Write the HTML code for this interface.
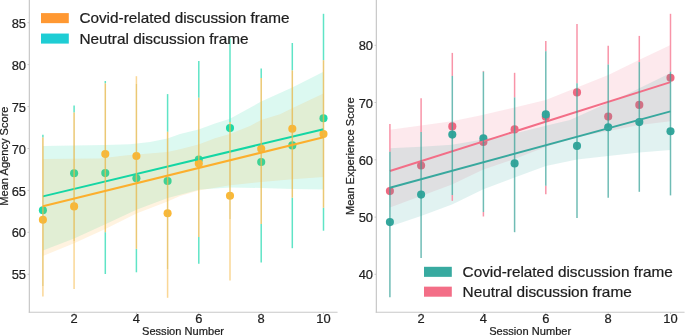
<!DOCTYPE html>
<html><head><meta charset="utf-8"><title>chart</title>
<style>html,body{margin:0;padding:0;background:#fff;overflow:hidden;}svg{display:block;will-change:transform;}text{font-family:"Liberation Sans",sans-serif;}</style>
</head><body>
<svg width="685" height="335" viewBox="0 0 685 335">
<rect x="0" y="0" width="685" height="335" fill="#fff"/>
<circle cx="42.9" cy="210.3" r="4.05" fill="rgb(30,218,168)"/>
<circle cx="74.1" cy="173.2" r="4.05" fill="rgb(30,218,168)"/>
<circle cx="105.3" cy="173.1" r="4.05" fill="rgb(30,218,168)"/>
<circle cx="136.4" cy="178.2" r="4.05" fill="rgb(30,218,168)"/>
<circle cx="167.6" cy="181.0" r="4.05" fill="rgb(30,218,168)"/>
<circle cx="198.8" cy="159.5" r="4.05" fill="rgb(30,218,168)"/>
<circle cx="230.0" cy="128.1" r="4.05" fill="rgb(30,218,168)"/>
<circle cx="261.2" cy="162.0" r="4.05" fill="rgb(30,218,168)"/>
<circle cx="292.3" cy="145.4" r="4.05" fill="rgb(30,218,168)"/>
<circle cx="323.5" cy="118.2" r="4.05" fill="rgb(30,218,168)"/>
<polygon points="42.9,146.1 74.0,145.5 105.0,145.0 130.0,144.2 150.0,142.1 167.5,138.5 180.0,134.0 198.6,129.5 215.0,123.5 229.9,118.8 261.2,101.6 292.2,87.6 323.5,71.8 323.5,189.6 292.2,188.9 261.2,188.0 229.9,187.4 200.0,189.5 167.6,197.9 136.4,209.8 105.3,224.2 74.1,238.5 42.9,250.4" fill="rgb(20,214,164)" fill-opacity="0.15"/>
<circle cx="42.9" cy="219.7" r="4.05" fill="rgb(250,184,55)"/>
<circle cx="74.1" cy="206.4" r="4.05" fill="rgb(250,184,55)"/>
<circle cx="105.3" cy="154.0" r="4.05" fill="rgb(250,184,55)"/>
<circle cx="136.4" cy="156.0" r="4.05" fill="rgb(250,184,55)"/>
<circle cx="167.6" cy="213.2" r="4.05" fill="rgb(250,184,55)"/>
<circle cx="198.8" cy="163.6" r="4.05" fill="rgb(250,184,55)"/>
<circle cx="230.0" cy="195.8" r="4.05" fill="rgb(250,184,55)"/>
<circle cx="261.2" cy="148.8" r="4.05" fill="rgb(250,184,55)"/>
<circle cx="292.3" cy="128.7" r="4.05" fill="rgb(250,184,55)"/>
<circle cx="323.5" cy="134.0" r="4.05" fill="rgb(250,184,55)"/>
<polygon points="42.9,159.1 100.0,158.4 125.0,155.5 167.5,152.0 180.0,149.3 198.6,144.6 215.0,138.3 229.9,134.0 250.0,126.0 261.2,120.0 280.0,114.3 292.2,108.3 323.5,93.5 323.5,177.1 292.2,179.3 261.2,181.9 229.9,185.2 198.6,190.6 180.0,196.1 167.6,201.5 136.4,213.4 105.3,229.0 74.1,243.3 42.9,255.9" fill="rgb(252,175,45)" fill-opacity="0.15"/>
<line x1="42.9" y1="134.7" x2="42.9" y2="137.6" stroke="rgb(95,228,198)" stroke-width="1.5"/>
<line x1="74.1" y1="105.6" x2="74.1" y2="112.5" stroke="rgb(95,228,198)" stroke-width="1.5"/>
<line x1="105.3" y1="81.0" x2="105.3" y2="83.4" stroke="rgb(95,228,198)" stroke-width="1.5"/>
<line x1="105.3" y1="232.2" x2="105.3" y2="274.0" stroke="rgb(95,228,198)" stroke-width="1.5"/>
<line x1="136.4" y1="248.9" x2="136.4" y2="272.3" stroke="rgb(95,228,198)" stroke-width="1.5"/>
<line x1="167.6" y1="94.1" x2="167.6" y2="131.8" stroke="rgb(95,228,198)" stroke-width="1.5"/>
<line x1="198.8" y1="60.9" x2="198.8" y2="97.7" stroke="rgb(95,228,198)" stroke-width="1.5"/>
<line x1="198.8" y1="236.9" x2="198.8" y2="263.7" stroke="rgb(95,228,198)" stroke-width="1.5"/>
<line x1="230.0" y1="38.4" x2="230.0" y2="122.1" stroke="rgb(95,228,198)" stroke-width="1.5"/>
<line x1="261.2" y1="68.5" x2="261.2" y2="77.9" stroke="rgb(95,228,198)" stroke-width="1.5"/>
<line x1="261.2" y1="224.0" x2="261.2" y2="262.5" stroke="rgb(95,228,198)" stroke-width="1.5"/>
<line x1="292.3" y1="43.0" x2="292.3" y2="70.4" stroke="rgb(95,228,198)" stroke-width="1.5"/>
<line x1="292.3" y1="197.7" x2="292.3" y2="248.2" stroke="rgb(95,228,198)" stroke-width="1.5"/>
<line x1="323.5" y1="13.8" x2="323.5" y2="60.2" stroke="rgb(95,228,198)" stroke-width="1.5"/>
<line x1="323.5" y1="207.8" x2="323.5" y2="230.7" stroke="rgb(95,228,198)" stroke-width="1.5"/>
<line x1="42.9" y1="196.4" x2="323.5" y2="129.2" stroke="rgb(20,214,164)" stroke-width="2"/>
<line x1="42.9" y1="137.60" x2="42.9" y2="286.00" stroke="rgb(230,186,81)" stroke-width="1.5" stroke-opacity="0.8"/>
<line x1="42.9" y1="286.00" x2="42.9" y2="296.60" stroke="rgb(249,205,124)" stroke-width="1.5" stroke-opacity="0.8"/>
<line x1="74.1" y1="112.50" x2="74.1" y2="241.00" stroke="rgb(230,186,81)" stroke-width="1.5" stroke-opacity="0.8"/>
<line x1="74.1" y1="241.00" x2="74.1" y2="289.00" stroke="rgb(249,205,124)" stroke-width="1.5" stroke-opacity="0.8"/>
<line x1="105.3" y1="83.40" x2="105.3" y2="232.20" stroke="rgb(230,186,81)" stroke-width="1.5" stroke-opacity="0.8"/>
<line x1="136.4" y1="76.20" x2="136.4" y2="84.00" stroke="rgb(249,205,124)" stroke-width="1.5" stroke-opacity="0.8"/>
<line x1="136.4" y1="84.00" x2="136.4" y2="248.90" stroke="rgb(230,186,81)" stroke-width="1.5" stroke-opacity="0.8"/>
<line x1="167.6" y1="131.80" x2="167.6" y2="269.00" stroke="rgb(230,186,81)" stroke-width="1.5" stroke-opacity="0.8"/>
<line x1="167.6" y1="269.00" x2="167.6" y2="297.80" stroke="rgb(249,205,124)" stroke-width="1.5" stroke-opacity="0.8"/>
<line x1="198.8" y1="97.70" x2="198.8" y2="236.90" stroke="rgb(230,186,81)" stroke-width="1.5" stroke-opacity="0.8"/>
<line x1="230.0" y1="122.10" x2="230.0" y2="219.00" stroke="rgb(230,186,81)" stroke-width="1.5" stroke-opacity="0.8"/>
<line x1="230.0" y1="219.00" x2="230.0" y2="280.60" stroke="rgb(249,205,124)" stroke-width="1.5" stroke-opacity="0.8"/>
<line x1="261.2" y1="77.90" x2="261.2" y2="224.00" stroke="rgb(230,186,81)" stroke-width="1.5" stroke-opacity="0.8"/>
<line x1="292.3" y1="70.40" x2="292.3" y2="197.70" stroke="rgb(230,186,81)" stroke-width="1.5" stroke-opacity="0.8"/>
<line x1="323.5" y1="60.20" x2="323.5" y2="207.80" stroke="rgb(230,186,81)" stroke-width="1.5" stroke-opacity="0.8"/>
<line x1="42.9" y1="206.3" x2="323.5" y2="137.3" stroke="rgb(252,175,45)" stroke-width="2"/>
<line x1="29.35" y1="0" x2="29.35" y2="312.85" stroke="#c8c8c8" stroke-width="1.2"/>
<line x1="28.75" y1="312.25" x2="337.55" y2="312.25" stroke="#c8c8c8" stroke-width="1.2"/>
<circle cx="389.9" cy="191.1" r="4.05" fill="rgb(238,104,128)"/>
<circle cx="421.1" cy="165.5" r="4.05" fill="rgb(238,104,128)"/>
<circle cx="452.3" cy="126.4" r="4.05" fill="rgb(238,104,128)"/>
<circle cx="483.4" cy="141.9" r="4.05" fill="rgb(238,104,128)"/>
<circle cx="514.6" cy="129.4" r="4.05" fill="rgb(238,104,128)"/>
<circle cx="545.8" cy="116.8" r="4.05" fill="rgb(238,104,128)"/>
<circle cx="577.0" cy="92.4" r="4.05" fill="rgb(238,104,128)"/>
<circle cx="608.2" cy="116.6" r="4.05" fill="rgb(238,104,128)"/>
<circle cx="639.3" cy="104.9" r="4.05" fill="rgb(238,104,128)"/>
<circle cx="670.5" cy="77.8" r="4.05" fill="rgb(238,104,128)"/>
<polygon points="389.9,129.8 421.0,125.5 452.0,121.3 480.0,115.5 514.6,107.5 545.8,100.0 577.0,87.5 608.3,75.0 639.4,59.7 670.5,45.0 670.5,121.3 639.4,124.9 608.3,130.9 580.0,136.5 550.0,145.5 535.0,151.0 514.6,159.0 483.4,169.4 465.0,178.2 452.0,184.5 421.0,196.0 389.9,207.5" fill="rgb(243,110,135)" fill-opacity="0.15"/>
<circle cx="389.9" cy="222.1" r="4.05" fill="rgb(52,166,156)"/>
<circle cx="421.1" cy="194.6" r="4.05" fill="rgb(52,166,156)"/>
<circle cx="452.3" cy="134.6" r="4.05" fill="rgb(52,166,156)"/>
<circle cx="483.4" cy="138.4" r="4.05" fill="rgb(52,166,156)"/>
<circle cx="514.6" cy="163.4" r="4.05" fill="rgb(52,166,156)"/>
<circle cx="545.8" cy="114.4" r="4.05" fill="rgb(52,166,156)"/>
<circle cx="577.0" cy="145.9" r="4.05" fill="rgb(52,166,156)"/>
<circle cx="608.2" cy="127.2" r="4.05" fill="rgb(52,166,156)"/>
<circle cx="639.3" cy="122.1" r="4.05" fill="rgb(52,166,156)"/>
<circle cx="670.5" cy="131.3" r="4.05" fill="rgb(52,166,156)"/>
<polygon points="389.9,148.2 421.0,146.8 452.0,144.7 480.0,140.1 514.5,133.5 545.8,125.7 570.0,120.0 626.5,94.4 670.5,73.1 670.5,150.0 639.4,152.4 608.3,156.0 577.0,159.5 545.8,166.0 514.6,177.5 483.4,189.3 452.0,204.5 421.0,216.0 389.9,226.6" fill="rgb(56,168,158)" fill-opacity="0.15"/>
<line x1="389.9" y1="124.0" x2="389.9" y2="151.8" stroke="rgb(248,148,168)" stroke-width="1.5"/>
<line x1="421.1" y1="98.2" x2="421.1" y2="132.0" stroke="rgb(248,148,168)" stroke-width="1.5"/>
<line x1="452.3" y1="52.9" x2="452.3" y2="75.9" stroke="rgb(248,148,168)" stroke-width="1.5"/>
<line x1="452.3" y1="195.0" x2="452.3" y2="200.8" stroke="rgb(248,148,168)" stroke-width="1.5"/>
<line x1="483.4" y1="70.9" x2="483.4" y2="71.7" stroke="rgb(248,148,168)" stroke-width="1.5"/>
<line x1="483.4" y1="212.0" x2="483.4" y2="216.5" stroke="rgb(248,148,168)" stroke-width="1.5"/>
<line x1="514.6" y1="72.8" x2="514.6" y2="97.4" stroke="rgb(248,148,168)" stroke-width="1.5"/>
<line x1="545.8" y1="41.1" x2="545.8" y2="51.3" stroke="rgb(248,148,168)" stroke-width="1.5"/>
<line x1="545.8" y1="185.8" x2="545.8" y2="194.2" stroke="rgb(248,148,168)" stroke-width="1.5"/>
<line x1="577.0" y1="23.9" x2="577.0" y2="83.3" stroke="rgb(248,148,168)" stroke-width="1.5"/>
<line x1="608.2" y1="45.8" x2="608.2" y2="64.5" stroke="rgb(248,148,168)" stroke-width="1.5"/>
<line x1="639.3" y1="35.9" x2="639.3" y2="62.1" stroke="rgb(248,148,168)" stroke-width="1.5"/>
<line x1="670.5" y1="13.8" x2="670.5" y2="71.6" stroke="rgb(248,148,168)" stroke-width="1.5"/>
<line x1="389.9" y1="171.0" x2="670.5" y2="82.1" stroke="rgb(243,110,135)" stroke-width="2"/>
<line x1="389.9" y1="151.80" x2="389.9" y2="297.30" stroke="rgb(50,160,150)" stroke-width="1.5" stroke-opacity="0.7"/>
<line x1="421.1" y1="132.00" x2="421.1" y2="258.00" stroke="rgb(50,160,150)" stroke-width="1.5" stroke-opacity="0.7"/>
<line x1="452.3" y1="75.90" x2="452.3" y2="195.00" stroke="rgb(50,160,150)" stroke-width="1.5" stroke-opacity="0.7"/>
<line x1="483.4" y1="71.70" x2="483.4" y2="212.00" stroke="rgb(50,160,150)" stroke-width="1.5" stroke-opacity="0.7"/>
<line x1="514.6" y1="97.40" x2="514.6" y2="232.20" stroke="rgb(50,160,150)" stroke-width="1.5" stroke-opacity="0.7"/>
<line x1="545.8" y1="51.30" x2="545.8" y2="185.80" stroke="rgb(50,160,150)" stroke-width="1.5" stroke-opacity="0.7"/>
<line x1="577.0" y1="83.30" x2="577.0" y2="218.00" stroke="rgb(50,160,150)" stroke-width="1.5" stroke-opacity="0.7"/>
<line x1="608.2" y1="64.50" x2="608.2" y2="197.70" stroke="rgb(50,160,150)" stroke-width="1.5" stroke-opacity="0.7"/>
<line x1="639.3" y1="62.10" x2="639.3" y2="191.80" stroke="rgb(50,160,150)" stroke-width="1.5" stroke-opacity="0.7"/>
<line x1="670.5" y1="71.60" x2="670.5" y2="195.40" stroke="rgb(50,160,150)" stroke-width="1.5" stroke-opacity="0.7"/>
<line x1="389.9" y1="187.7" x2="670.5" y2="111.4" stroke="rgb(56,168,158)" stroke-width="2"/>
<line x1="376.35" y1="0" x2="376.35" y2="312.85" stroke="#c8c8c8" stroke-width="1.2"/>
<line x1="375.75" y1="312.25" x2="684.55" y2="312.25" stroke="#c8c8c8" stroke-width="1.2"/>
<line x1="27.55" y1="22.7" x2="29.35" y2="22.7" stroke="#c8c8c8" stroke-width="1"/>
<text x="26.0" y="27.8" font-size="12.9" text-anchor="end" font-family="Liberation Sans, sans-serif" fill="#1e1e1e" stroke="#1e1e1e" stroke-width="0.22">85</text>
<line x1="27.55" y1="64.6" x2="29.35" y2="64.6" stroke="#c8c8c8" stroke-width="1"/>
<text x="26.0" y="69.7" font-size="12.9" text-anchor="end" font-family="Liberation Sans, sans-serif" fill="#1e1e1e" stroke="#1e1e1e" stroke-width="0.22">80</text>
<line x1="27.55" y1="106.6" x2="29.35" y2="106.6" stroke="#c8c8c8" stroke-width="1"/>
<text x="26.0" y="111.7" font-size="12.9" text-anchor="end" font-family="Liberation Sans, sans-serif" fill="#1e1e1e" stroke="#1e1e1e" stroke-width="0.22">75</text>
<line x1="27.55" y1="148.5" x2="29.35" y2="148.5" stroke="#c8c8c8" stroke-width="1"/>
<text x="26.0" y="153.6" font-size="12.9" text-anchor="end" font-family="Liberation Sans, sans-serif" fill="#1e1e1e" stroke="#1e1e1e" stroke-width="0.22">70</text>
<line x1="27.55" y1="190.4" x2="29.35" y2="190.4" stroke="#c8c8c8" stroke-width="1"/>
<text x="26.0" y="195.5" font-size="12.9" text-anchor="end" font-family="Liberation Sans, sans-serif" fill="#1e1e1e" stroke="#1e1e1e" stroke-width="0.22">65</text>
<line x1="27.55" y1="232.3" x2="29.35" y2="232.3" stroke="#c8c8c8" stroke-width="1"/>
<text x="26.0" y="237.4" font-size="12.9" text-anchor="end" font-family="Liberation Sans, sans-serif" fill="#1e1e1e" stroke="#1e1e1e" stroke-width="0.22">60</text>
<line x1="27.55" y1="274.3" x2="29.35" y2="274.3" stroke="#c8c8c8" stroke-width="1"/>
<text x="26.0" y="279.4" font-size="12.9" text-anchor="end" font-family="Liberation Sans, sans-serif" fill="#1e1e1e" stroke="#1e1e1e" stroke-width="0.22">55</text>
<line x1="374.55" y1="45.3" x2="376.35" y2="45.3" stroke="#c8c8c8" stroke-width="1"/>
<text x="373.0" y="50.4" font-size="12.9" text-anchor="end" font-family="Liberation Sans, sans-serif" fill="#1e1e1e" stroke="#1e1e1e" stroke-width="0.22">80</text>
<line x1="374.55" y1="102.5" x2="376.35" y2="102.5" stroke="#c8c8c8" stroke-width="1"/>
<text x="373.0" y="107.6" font-size="12.9" text-anchor="end" font-family="Liberation Sans, sans-serif" fill="#1e1e1e" stroke="#1e1e1e" stroke-width="0.22">70</text>
<line x1="374.55" y1="159.8" x2="376.35" y2="159.8" stroke="#c8c8c8" stroke-width="1"/>
<text x="373.0" y="164.9" font-size="12.9" text-anchor="end" font-family="Liberation Sans, sans-serif" fill="#1e1e1e" stroke="#1e1e1e" stroke-width="0.22">60</text>
<line x1="374.55" y1="217.1" x2="376.35" y2="217.1" stroke="#c8c8c8" stroke-width="1"/>
<text x="373.0" y="222.2" font-size="12.9" text-anchor="end" font-family="Liberation Sans, sans-serif" fill="#1e1e1e" stroke="#1e1e1e" stroke-width="0.22">50</text>
<line x1="374.55" y1="274.3" x2="376.35" y2="274.3" stroke="#c8c8c8" stroke-width="1"/>
<text x="373.0" y="279.4" font-size="12.9" text-anchor="end" font-family="Liberation Sans, sans-serif" fill="#1e1e1e" stroke="#1e1e1e" stroke-width="0.22">40</text>
<line x1="74.1" y1="312.25" x2="74.1" y2="314" stroke="#c8c8c8" stroke-width="1"/>
<text x="74.1" y="323.4" font-size="12.9" text-anchor="middle" font-family="Liberation Sans, sans-serif" fill="#1e1e1e" stroke="#1e1e1e" stroke-width="0.22">2</text>
<line x1="136.4" y1="312.25" x2="136.4" y2="314" stroke="#c8c8c8" stroke-width="1"/>
<text x="136.4" y="323.4" font-size="12.9" text-anchor="middle" font-family="Liberation Sans, sans-serif" fill="#1e1e1e" stroke="#1e1e1e" stroke-width="0.22">4</text>
<line x1="198.8" y1="312.25" x2="198.8" y2="314" stroke="#c8c8c8" stroke-width="1"/>
<text x="198.8" y="323.4" font-size="12.9" text-anchor="middle" font-family="Liberation Sans, sans-serif" fill="#1e1e1e" stroke="#1e1e1e" stroke-width="0.22">6</text>
<line x1="261.2" y1="312.25" x2="261.2" y2="314" stroke="#c8c8c8" stroke-width="1"/>
<text x="261.2" y="323.4" font-size="12.9" text-anchor="middle" font-family="Liberation Sans, sans-serif" fill="#1e1e1e" stroke="#1e1e1e" stroke-width="0.22">8</text>
<line x1="323.5" y1="312.25" x2="323.5" y2="314" stroke="#c8c8c8" stroke-width="1"/>
<text x="323.5" y="323.4" font-size="12.9" text-anchor="middle" font-family="Liberation Sans, sans-serif" fill="#1e1e1e" stroke="#1e1e1e" stroke-width="0.22">10</text>
<line x1="421.1" y1="312.25" x2="421.1" y2="314" stroke="#c8c8c8" stroke-width="1"/>
<text x="421.1" y="323.4" font-size="12.9" text-anchor="middle" font-family="Liberation Sans, sans-serif" fill="#1e1e1e" stroke="#1e1e1e" stroke-width="0.22">2</text>
<line x1="483.4" y1="312.25" x2="483.4" y2="314" stroke="#c8c8c8" stroke-width="1"/>
<text x="483.4" y="323.4" font-size="12.9" text-anchor="middle" font-family="Liberation Sans, sans-serif" fill="#1e1e1e" stroke="#1e1e1e" stroke-width="0.22">4</text>
<line x1="545.8" y1="312.25" x2="545.8" y2="314" stroke="#c8c8c8" stroke-width="1"/>
<text x="545.8" y="323.4" font-size="12.9" text-anchor="middle" font-family="Liberation Sans, sans-serif" fill="#1e1e1e" stroke="#1e1e1e" stroke-width="0.22">6</text>
<line x1="608.2" y1="312.25" x2="608.2" y2="314" stroke="#c8c8c8" stroke-width="1"/>
<text x="608.2" y="323.4" font-size="12.9" text-anchor="middle" font-family="Liberation Sans, sans-serif" fill="#1e1e1e" stroke="#1e1e1e" stroke-width="0.22">8</text>
<line x1="670.5" y1="312.25" x2="670.5" y2="314" stroke="#c8c8c8" stroke-width="1"/>
<text x="670.5" y="323.4" font-size="12.9" text-anchor="middle" font-family="Liberation Sans, sans-serif" fill="#1e1e1e" stroke="#1e1e1e" stroke-width="0.22">10</text>
<text x="142" y="335.3" font-size="10.6" textLength="82" lengthAdjust="spacingAndGlyphs" font-family="Liberation Sans, sans-serif" fill="#1e1e1e" stroke="#1e1e1e" stroke-width="0.22">Session Number</text>
<text x="489.2" y="335.3" font-size="10.6" textLength="82" lengthAdjust="spacingAndGlyphs" font-family="Liberation Sans, sans-serif" fill="#1e1e1e" stroke="#1e1e1e" stroke-width="0.22">Session Number</text>
<text transform="translate(7.8,205.7) rotate(-90)" x="0" y="0" font-size="10.6" textLength="99.2" lengthAdjust="spacingAndGlyphs" font-family="Liberation Sans, sans-serif" fill="#1e1e1e" stroke="#1e1e1e" stroke-width="0.22">Mean Agency Score</text>
<text transform="translate(354.0,215.0) rotate(-90)" x="0" y="0" font-size="10.6" textLength="117.6" lengthAdjust="spacingAndGlyphs" font-family="Liberation Sans, sans-serif" fill="#1e1e1e" stroke="#1e1e1e" stroke-width="0.22">Mean Experience Score</text>
<rect x="41.0" y="13.10" width="27.8" height="10.05" fill="rgb(255,152,50)"/>
<rect x="41.0" y="33.55" width="27.8" height="10.05" fill="rgb(30,205,212)"/>
<text x="79.4" y="23.15" font-size="14.4" textLength="210.2" lengthAdjust="spacingAndGlyphs" font-family="Liberation Sans, sans-serif" fill="#1e1e1e" stroke="#1e1e1e" stroke-width="0.22">Covid-related discussion frame</text>
<text x="79.4" y="43.6" font-size="14.4" textLength="169.2" lengthAdjust="spacingAndGlyphs" font-family="Liberation Sans, sans-serif" fill="#1e1e1e" stroke="#1e1e1e" stroke-width="0.22">Neutral discussion frame</text>
<rect x="424.0" y="266.80" width="27.8" height="10.05" fill="rgb(56,170,160)"/>
<rect x="424.0" y="286.65" width="27.8" height="10.05" fill="rgb(243,110,135)"/>
<text x="462.6" y="276.85" font-size="14.4" textLength="210.2" lengthAdjust="spacingAndGlyphs" font-family="Liberation Sans, sans-serif" fill="#1e1e1e" stroke="#1e1e1e" stroke-width="0.22">Covid-related discussion frame</text>
<text x="462.6" y="296.7" font-size="14.4" textLength="169.2" lengthAdjust="spacingAndGlyphs" font-family="Liberation Sans, sans-serif" fill="#1e1e1e" stroke="#1e1e1e" stroke-width="0.22">Neutral discussion frame</text>
</svg>
</body></html>
